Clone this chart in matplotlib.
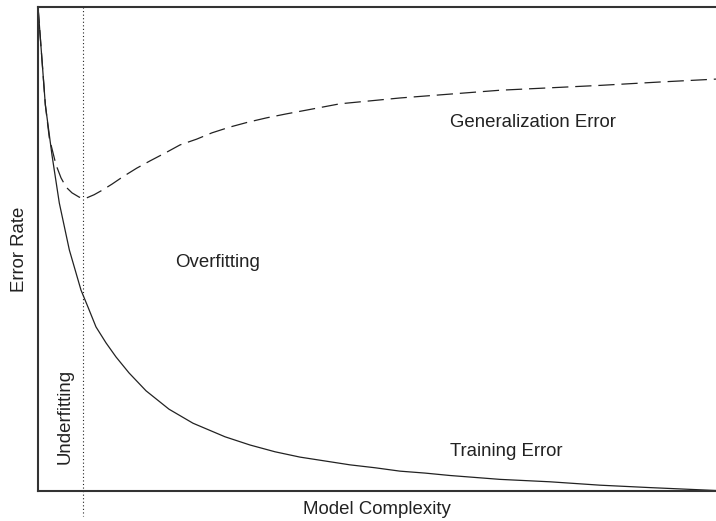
import matplotlib.pyplot as plt

plt.rcParams['font.family'] = ['Liberation Sans', 'DejaVu Sans']

# model complexity (0..100) and error rate (0..1)
train_x = [0, 1.08, 2.06, 3.14, 4.62, 6.34, 7.37, 8.55, 10.03, 11.50, 13.42,
           15.93, 19.32, 22.86, 27.58, 31.27, 34.96, 38.64, 42.33, 46.02,
           49.71, 53.39, 57.08, 60.77, 68.14, 75.52, 82.89, 90.27, 100]
train_y = [1.0, 0.798, 0.694, 0.595, 0.498, 0.415, 0.380, 0.339, 0.306, 0.277,
           0.244, 0.207, 0.169, 0.140, 0.112, 0.095, 0.081, 0.070, 0.062, 0.054,
           0.048, 0.041, 0.037, 0.032, 0.024, 0.019, 0.012, 0.007, 0.001]

gen_x = [0, 1.08, 1.67, 2.65, 3.39, 4.13, 5.01, 6.09, 7.08, 8.26, 9.54, 10.91,
         12.49, 14.56, 16.52, 18.98, 20.94, 23.41, 25.66, 28.32, 30.97, 33.73,
         36.58, 39.63, 44.54, 48.97, 53.39, 60.77, 68.14, 75.52, 82.89, 91.74, 100]
gen_y = [1.0, 0.798, 0.729, 0.674, 0.647, 0.628, 0.616, 0.607, 0.605, 0.612,
         0.622, 0.634, 0.649, 0.667, 0.682, 0.700, 0.715, 0.727, 0.740, 0.752,
         0.762, 0.771, 0.779, 0.787, 0.800, 0.806, 0.812, 0.820, 0.828, 0.833,
         0.838, 0.845, 0.851]

best_x = 6.59

fig = plt.figure(figsize=(7.16, 5.21), dpi=100)
ax = fig.add_axes([0.0531, 0.0576, 0.9469, 0.929])

ax.plot(train_x, train_y, color='#222222', lw=0.9)
ax.plot(gen_x, gen_y, color='#222222', lw=0.9, dashes=(13, 5.5))
ax.plot([best_x, best_x], [1.0, -0.052], color='#222222', lw=0.8,
        dashes=(1, 2.2), clip_on=False)

fs = 13.4
ax.text(73.0, 0.762, 'Generalization Error', ha='center', va='center', fontsize=fs, color='#222222')
ax.text(26.5, 0.473, 'Overfitting', ha='center', va='center', fontsize=fs, color='#222222')
ax.text(69.0, 0.081, 'Training Error', ha='center', va='center', fontsize=fs, color='#222222')
ax.text(4.0, 0.153, 'Underfitting', ha='center', va='center', rotation=90, fontsize=fs, color='#222222')

ax.set_xlim(0, 100)
ax.set_ylim(0, 1)
ax.set_xticks([])
ax.set_yticks([])
ax.set_xlabel('Model Complexity', fontsize=fs, color='#222222', labelpad=7.5)
ax.set_ylabel('Error Rate', fontsize=fs, color='#222222', labelpad=7)

ax.spines['right'].set_visible(False)
for s in ['left', 'bottom', 'top']:
    ax.spines[s].set_linewidth(1.5)
    ax.spines[s].set_color('#333333')

fig.savefig('out.png', dpi=100)
